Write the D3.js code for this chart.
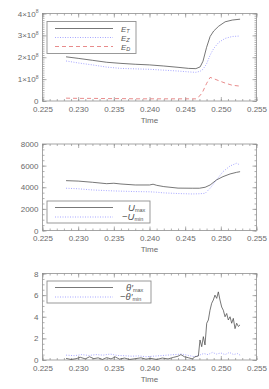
<!DOCTYPE html>
<html>
<head>
<meta charset="utf-8">
<script src="https://cdn.jsdelivr.net/npm/d3@7"></script>
<style>
  body { margin: 0; background: #fff; }
  svg text { font-family: "Liberation Sans", Arial, sans-serif; }
</style>
</head>
<body>
<svg width="269" height="389"></svg>
<script>
// panel 1: energies (units of 1e8)
let t1 = [0.2283, 0.2300, 0.2320, 0.2340, 0.2360, 0.2380, 0.2400, 0.2420, 0.2440, 0.2455,
          0.2465, 0.2471, 0.2475, 0.2480, 0.2485, 0.2490, 0.2497, 0.2506, 0.2516, 0.2527]
let eT = [2.02, 1.95, 1.86, 1.77, 1.72, 1.68, 1.65, 1.60, 1.54, 1.49,
          1.48, 1.56, 1.82, 2.45, 2.95, 3.20, 3.42, 3.62, 3.70, 3.74]
let eZ = [1.83, 1.74, 1.65, 1.55, 1.49, 1.47, 1.45, 1.41, 1.37, 1.33,
          1.31, 1.36, 1.45, 1.70, 2.10, 2.40, 2.68, 2.86, 2.95, 2.97]
let eD = [0.13, 0.12, 0.12, 0.11, 0.11, 0.10, 0.10, 0.10, 0.10, 0.10,
          0.10, 0.25, 0.45, 0.80, 1.08, 1.02, 0.93, 0.82, 0.72, 0.68]

// panel 2: velocities
let t2 = [0.2283, 0.2300, 0.2320, 0.2340, 0.2350, 0.2360, 0.2380, 0.2400, 0.2405, 0.2410, 0.2420,
          0.2440, 0.2460, 0.2470, 0.2478, 0.2485, 0.2494, 0.2503, 0.2513, 0.2522, 0.2527]
let uMax = [4610, 4570, 4460, 4330, 4370, 4300, 4210, 4210, 4280, 4180, 4060,
            3920, 3910, 3910, 4000, 4210, 4680, 4980, 5230, 5380, 5440]
let uMin = [3910, 3860, 3750, 3690, 3660, 3640, 3600, 3580, 3560, 3540, 3480,
            3420, 3380, 3400, 3440, 3910, 4680, 5440, 5970, 6220, 6060]

// panel 3: theta'
let t3a = [0.2283, 0.2290, 0.2297, 0.2303, 0.2310, 0.2316, 0.2322, 0.2328, 0.2334, 0.2340,
           0.2346, 0.2352, 0.2358, 0.2365, 0.2372, 0.2380, 0.2388, 0.2395, 0.2402, 0.2410,
           0.2418, 0.2426, 0.2434, 0.2440, 0.2444, 0.2449, 0.2455, 0.2460, 0.24638, 0.24685,
           0.24708, 0.24732, 0.24755, 0.24778, 0.24802, 0.24825, 0.24848, 0.24872, 0.24895, 0.24918,
           0.24942, 0.24965, 0.24988, 0.25012, 0.25035, 0.25059, 0.25082, 0.25105, 0.25129, 0.25152,
           0.25175, 0.25199, 0.25222, 0.25246, 0.25269]
let thMax = [0.15, 0.05, 0.12, 0.25, 0.10, 0.30, 0.12, 0.20, 0.05, 0.22,
             0.10, 0.28, 0.08, 0.18, 0.05, 0.12, 0.20, 0.08, 0.15, 0.05,
             0.18, 0.10, 0.25, 0.35, 0.50, 0.30, 0.20, 0.10, 0.30, 0.37,
             1.85, 1.23, 2.16, 1.39, 3.40, 3.70, 4.60, 5.25, 5.55, 6.00,
             5.70, 6.30, 5.55, 4.90, 4.60, 4.00, 4.30, 3.70, 4.00, 3.40,
             3.85, 2.90, 3.40, 3.10, 3.25]
let t3b = [0.2283, 0.2295, 0.2305, 0.2315, 0.2325, 0.2335, 0.2345, 0.2355, 0.2365, 0.2375,
           0.2385, 0.2395, 0.2405, 0.2415, 0.2425, 0.2435, 0.2445, 0.2455, 0.2463, 0.2470,
           0.2476, 0.2482, 0.2488, 0.2494, 0.2500, 0.2506, 0.2512, 0.2518, 0.2523, 0.2527]
let thMin = [0.45, 0.40, 0.50, 0.42, 0.50, 0.45, 0.55, 0.42, 0.40, 0.35,
             0.38, 0.30, 0.35, 0.40, 0.45, 0.50, 0.55, 0.42, 0.30, 0.45,
             0.60, 0.50, 0.70, 0.55, 0.65, 0.50, 0.70, 0.50, 0.60, 0.45]

let xTicks = [0.225, 0.230, 0.235, 0.240, 0.245, 0.250, 0.255]

let svg = d3.select('svg')
let x = d3.scaleLinear().domain([0.225, 0.255]).range([42.5, 256.5])

let darkC = '#4a4a4a', blueC = '#8a8aff', redC = '#e06666', axC = '#8f8f8f', txtC = '#6a6a6a'

function panel(top, bottom, ymax, yTicks, yFmt, minorStep) {
  let y = d3.scaleLinear().domain([0, ymax]).range([bottom, top])
  let g = svg.append('g')
  let xMinor = d3.range(0.225, 0.2551, 0.001)
  let yMinor = d3.range(0, ymax + minorStep / 2, minorStep)

  // minor ticks
  g.append('g').attr('transform', `translate(0,${bottom})`)
    .call(d3.axisBottom(x).tickValues(xMinor).tickSize(-2).tickFormat(''))
  g.append('g').attr('transform', `translate(0,${top})`)
    .call(d3.axisTop(x).tickValues(xMinor).tickSize(-2).tickFormat(''))
  g.append('g').attr('transform', `translate(42.5,0)`)
    .call(d3.axisLeft(y).tickValues(yMinor).tickSize(-2).tickFormat(''))
  g.append('g').attr('transform', `translate(256.5,0)`)
    .call(d3.axisRight(y).tickValues(yMinor).tickSize(-2).tickFormat(''))

  // major ticks
  g.append('g').attr('class', 'xb').attr('transform', `translate(0,${bottom})`)
    .call(d3.axisBottom(x).tickValues(xTicks).tickSizeInner(-4).tickSizeOuter(0)
      .tickPadding(5).tickFormat(d3.format('.3f')))
  g.append('g').attr('transform', `translate(0,${top})`)
    .call(d3.axisTop(x).tickValues(xTicks).tickSize(-4).tickFormat(''))
  let yl = g.append('g').attr('class', 'yl').attr('transform', `translate(42.5,0)`)
    .call(d3.axisLeft(y).tickValues(yTicks).tickSizeInner(-4).tickSizeOuter(0)
      .tickPadding(4).tickFormat(''))
  g.append('g').attr('transform', `translate(256.5,0)`)
    .call(d3.axisRight(y).tickValues(yTicks).tickSize(-4).tickFormat(''))

  yl.selectAll('.tick').append('text')
    .attr('x', -4).attr('dy', '0.32em')
    .attr('text-anchor', 'end')
    .each(function (d) { yFmt(d3.select(this), d) })

  g.selectAll('.domain').remove()
  g.selectAll('line').attr('stroke', axC).attr('stroke-width', 0.7)
  g.selectAll('text').attr('fill', txtC).attr('font-size', 8)

  g.append('rect').attr('x', 42.5).attr('y', top)
    .attr('width', 214).attr('height', bottom - top)
    .attr('fill', 'none').attr('stroke', axC).attr('stroke-width', 0.8)

  g.append('text').attr('x', (x(0.240))).attr('y', bottom + 21.5)
    .attr('text-anchor', 'middle').attr('font-size', 8).attr('fill', txtC)
    .text('Time')
  return y
}

function drawLine(y, ts, vs, color, dash) {
  let line = d3.line().x(d => x(d[0])).y(d => y(d[1]))
  svg.append('path').datum(d3.zip(ts, vs))
    .attr('d', line)
    .attr('fill', 'none')
    .attr('stroke', color)
    .attr('stroke-width', 0.75)
    .attr('stroke-dasharray', dash || null)
}

function legend(bx, by, bw, bh, items, size) {
  let lg = svg.append('g')
  lg.append('rect').attr('x', bx).attr('y', by).attr('width', bw).attr('height', bh)
    .attr('fill', '#fff').attr('stroke', axC).attr('stroke-width', 0.9)
  items.forEach(it => {
    lg.append('line').attr('x1', 55).attr('x2', 113).attr('y1', it.y).attr('y2', it.y)
      .attr('stroke', it.color).attr('stroke-width', 0.75)
      .attr('stroke-dasharray', it.dash || null)
    let t = lg.append('text').attr('x', it.x).attr('y', it.y + 3)
      .attr('font-family', '"Liberation Serif", "DejaVu Serif", serif')
      .attr('fill', '#555')
    t.append('tspan').attr('font-style', 'italic').attr('font-size', size).text(it.main)
    t.append('tspan').attr('font-size', 5.5).attr('dy', 1.2)
      .attr('font-style', it.subItalic ? 'italic' : 'normal')
      .text(it.sub)
  })
}

// panel 1
let y1 = panel(13.5, 101, 4, [0, 1, 2, 3, 4], (s, d) => {
  if (d === 0) { s.text('0'); return }
  s.text(d + '\u00d710')
  s.append('tspan').attr('font-size', 5).attr('dy', -3.5).text('8')
}, 0.1)
drawLine(y1, t1, eD, redC, '4,3')
drawLine(y1, t1, eZ, blueC, '1,1.5')
drawLine(y1, t1, eT, darkC)
legend(47, 21.5, 89, 32, [
  { y: 28.5, color: darkC, main: 'E', sub: 'T', x: 121, subItalic: true },
  { y: 37.5, color: blueC, dash: '1,1.5', main: 'E', sub: 'Z', x: 121, subItalic: true },
  { y: 46.5, color: redC, dash: '4,3', main: 'E', sub: 'D', x: 121, subItalic: true }
], 7.8)

// panel 2
let y2 = panel(144, 230.5, 8000, [0, 2000, 4000, 6000, 8000], (s, d) => s.text(d), 500)
drawLine(y2, t2, uMin, blueC, '1,1.5')
drawLine(y2, t2, uMax, darkC)
legend(47, 201, 103, 22, [
  { y: 207.5, color: darkC, main: 'U', sub: 'max', x: 128 },
  { y: 217, color: blueC, dash: '1,1.5', main: '\u2212U', sub: 'min', x: 122 }
], 9.5)

// panel 3
let y3 = panel(273.5, 360, 8, [0, 2, 4, 6, 8], (s, d) => s.text(d), 0.5)
drawLine(y3, t3b, thMin, blueC, '1,1.5')
drawLine(y3, t3a, thMax, darkC)
legend(47, 281, 104, 22, [
  { y: 287.5, color: darkC, main: '\u03b8\u2032', sub: 'max', x: 126 },
  { y: 297, color: blueC, dash: '1,1.5', main: '\u2212\u03b8\u2032', sub: 'min', x: 120 }
], 9.5)
</script>
</body>
</html>
